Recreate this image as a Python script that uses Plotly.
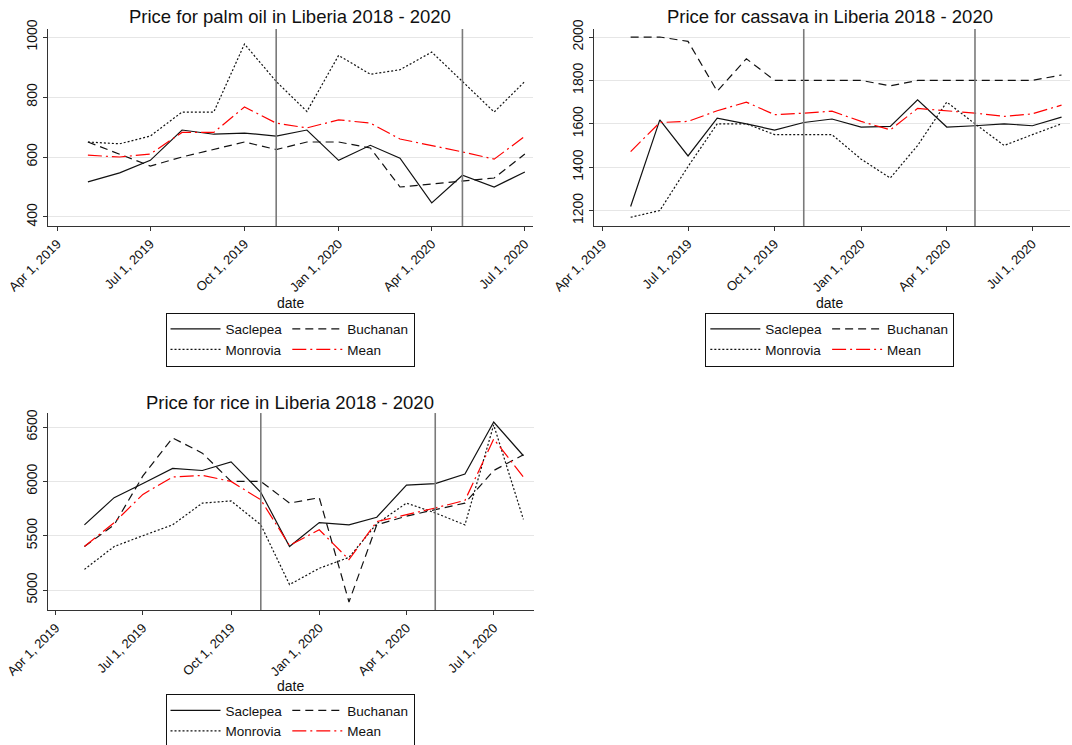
import plotly.graph_objects as go

# monthly observation dates
palm_dates = ["2019-05-01", "2019-06-01", "2019-07-01", "2019-08-01", "2019-09-01",
              "2019-10-01", "2019-11-01", "2019-12-01", "2020-01-01", "2020-02-01",
              "2020-03-01", "2020-04-01", "2020-05-01", "2020-06-01", "2020-07-01"]
long_dates = palm_dates + ["2020-08-01"]

# palm oil prices
palm_saclepea = [517, 547, 589, 690, 676, 680, 670, 690, 589, 639, 596, 447, 539, 500, 550]
palm_buchanan = [650, 610, 570, 600, 625, 650, 625, 650, 650, 630, 500, 510, 520, 530, 610]
palm_monrovia = [650, 644, 670, 750, 750, 977, 852, 752, 939, 876, 891, 950, 852, 750, 852]
palm_mean = [606, 600, 610, 682, 682, 767, 713, 697, 724, 713, 660, 639, 617, 593, 669]

# cassava prices
cassava_saclepea = [1219, 1618, 1452, 1626, 1600, 1571, 1606, 1622, 1585, 1588, 1711, 1585, 1591, 1600, 1591, 1631]
cassava_buchanan = [2000, 2000, 1980, 1750, 1900, 1800, 1800, 1800, 1800, 1775, 1800, 1800, 1800, 1800, 1800, 1825]
cassava_monrovia = [1169, 1200, 1403, 1600, 1600, 1550, 1550, 1550, 1437, 1350, 1500, 1700, 1600, 1500, 1550, 1600]
cassava_mean = [1472, 1606, 1611, 1660, 1700, 1642, 1649, 1658, 1611, 1572, 1671, 1660, 1649, 1634, 1646, 1686]

# rice prices
rice_saclepea = [5600, 5850, 5980, 6120, 6100, 6180, 5900, 5400, 5620, 5600, 5670, 5966, 5979, 6067, 6546, 6236]
rice_buchanan = [5400, 5600, 6050, 6400, 6260, 6000, 6000, 5800, 5850, 4890, 5600, 5680, 5740, 5800, 6100, 6245]
rice_monrovia = [5190, 5400, 5500, 5600, 5800, 5820, 5600, 5050, 5200, 5300, 5610, 5800, 5710, 5600, 6520, 5650]
rice_mean = [5400, 5620, 5880, 6040, 6055, 6000, 5830, 5410, 5555, 5280, 5630, 5690, 5755, 5825, 6390, 6040]

event_dates = ["2019-11-01", "2020-05-01"]
x_ticks = ["2019-04-01", "2019-07-01", "2019-10-01", "2020-01-01", "2020-04-01", "2020-07-01"]

FONT = "Liberation Sans, Arial, sans-serif"
INK = "#111111"

# order matters: first two form legend column 1, last two column 2
styles = [
    ("Saclepea", "a", dict(color=INK, width=1.2, dash="solid")),
    ("Monrovia", "a", dict(color=INK, width=1.2, dash="2px,2px")),
    ("Buchanan", "b", dict(color=INK, width=1.2, dash="8px,5px")),
    ("Mean", "b", dict(color="red", width=1.2, dash="14px,4px,2px,4px")),
]

panels = [
    dict(key="palm", dates=palm_dates, ax="", legend="legend",
         data={"Saclepea": palm_saclepea, "Buchanan": palm_buchanan,
               "Monrovia": palm_monrovia, "Mean": palm_mean}),
    dict(key="cassava", dates=long_dates, ax="2", legend="legend2",
         data={"Saclepea": cassava_saclepea, "Buchanan": cassava_buchanan,
               "Monrovia": cassava_monrovia, "Mean": cassava_mean}),
    dict(key="rice", dates=long_dates, ax="3", legend="legend3",
         data={"Saclepea": rice_saclepea, "Buchanan": rice_buchanan,
               "Monrovia": rice_monrovia, "Mean": rice_mean}),
]

fig = go.Figure()

for p in panels:
    for name, grp, line in styles:
        fig.add_trace(go.Scatter(
            x=p["dates"], y=p["data"][name], name=name, mode="lines", line=line,
            xaxis="x" + p["ax"], yaxis="y" + p["ax"],
            legend=p["legend"], legendgroup=p["key"] + grp,
        ))
    for d in event_dates:
        fig.add_shape(type="line", x0=d, x1=d, y0=0, y1=1,
                      xref="x" + p["ax"], yref="y" + p["ax"] + " domain",
                      line=dict(color="#7a7a7a", width=1.6), layer="above")

axis_common = dict(
    showline=True, linecolor="#333333", linewidth=1.3,
    ticks="outside", ticklen=4, tickcolor="#333333",
    zeroline=False,
)
xcommon = dict(axis_common, showgrid=False, tickvals=x_ticks, tickformat="%b %-d, %Y",
               tickangle=-45, tickfont=dict(family=FONT, size=13, color=INK))
ycommon = dict(axis_common, showgrid=True, gridcolor="#e6e6e6", gridwidth=1, tickangle=-90,
               tickfont=dict(family=FONT, size=14, color=INK))

legend_common = dict(
    orientation="h", traceorder="grouped", itemwidth=50,
    bordercolor="#111111", borderwidth=1, bgcolor="white",
    font=dict(family=FONT, size=13.5, color=INK),
    xanchor="center", yanchor="top", itemclick=False, itemdoubleclick=False,
)

fig.update_layout(
    width=1072, height=745,
    paper_bgcolor="white", plot_bgcolor="white",
    margin=dict(l=48, r=2, t=29, b=135, autoexpand=False),
    font=dict(family=FONT, size=14, color=INK),
    xaxis=dict(xcommon, domain=[0, 0.4746], range=["2019-03-23", "2020-07-09"], anchor="y"),
    yaxis=dict(ycommon, domain=[0.661, 1], range=[370, 1027], tickvals=[400, 600, 800, 1000], anchor="x"),
    xaxis2=dict(xcommon, domain=[0.5342, 1.0], range=["2019-03-23", "2020-08-10"], anchor="y2"),
    yaxis2=dict(ycommon, domain=[0.661, 1], range=[1129, 2037],
                tickvals=[1200, 1400, 1600, 1800, 2000], anchor="x2"),
    xaxis3=dict(xcommon, domain=[0, 0.4755], range=["2019-03-24", "2020-08-12"], anchor="y3"),
    yaxis3=dict(ycommon, domain=[0, 0.339], range=[4816, 6629],
                tickvals=[5000, 5500, 6000, 6500], anchor="x3"),
    legend=dict(legend_common, x=0.2368, y=0.512),
    legend2=dict(legend_common, x=0.765, y=0.512),
    legend3=dict(legend_common, x=0.2368, y=-0.1446),
)

# panel titles and x-axis titles
titles = [
    ("Price for palm oil in Liberia 2018 - 2020", 0.2368, 1.0207),
    ("Price for cassava in Liberia 2018 - 2020", 0.765, 1.0207),
    ("Price for rice in Liberia 2018 - 2020", 0.2368, 0.358),
]
for text, x, y in titles:
    fig.add_annotation(text=text, x=x, y=y, xref="paper", yref="paper",
                       showarrow=False, xanchor="center", yanchor="middle",
                       font=dict(family=FONT, size=18.5, color=INK))

for x, y in [(0.2368, 0.529), (0.765, 0.529), (0.2368, -0.131)]:
    fig.add_annotation(text="date", x=x, y=y, xref="paper", yref="paper",
                       showarrow=False, xanchor="center", yanchor="middle",
                       font=dict(family=FONT, size=14, color=INK))

# drop the browser's default body margin so the figure fills the window
fig.write_html("out.html", config={"displayModeBar": False},
               post_script="document.body.style.margin='0';")
